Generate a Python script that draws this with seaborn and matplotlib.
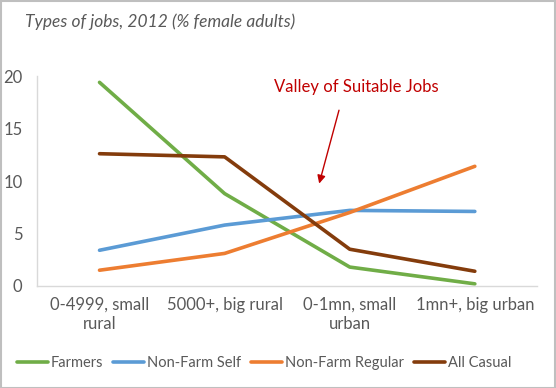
import matplotlib
matplotlib.use("Agg")
import matplotlib.pyplot as plt
import seaborn as sns
import pandas as pd
from matplotlib.patches import Rectangle

categories = ["0-4999, small\nrural", "5000+, big rural", "0-1mn, small\nurban", "1mn+, big urban"]
farmers = [19.4, 8.8, 1.8, 0.2]
nonfarm_self = [3.4, 5.8, 7.2, 7.1]
nonfarm_regular = [1.5, 3.1, 7.0, 11.4]
all_casual = [12.6, 12.3, 3.5, 1.4]
series_names = ["Farmers", "Non-Farm Self", "Non-Farm Regular", "All Casual"]
colors = ["#70AD47", "#5B9BD5", "#ED7D31", "#843C0C"]

sns.set_style("white")
plt.rcParams['font.family'] = ['Lato', 'DejaVu Sans']

rows = []
for name, vals in zip(series_names, [farmers, nonfarm_self, nonfarm_regular, all_casual]):
    for i, v in enumerate(vals):
        rows.append({"pos": i, "value": v, "series": name})
df = pd.DataFrame(rows)

fig = plt.figure(figsize=(5.56, 3.88), dpi=100)
ax = fig.add_axes([0.0665, 0.263, 0.9, 0.541])
sns.lineplot(data=df, x="pos", y="value", hue="series", hue_order=series_names,
             palette=colors, linewidth=2.6, ax=ax, legend=True)

ax.set_xlim(-0.5, 3.5)
ax.set_ylim(0, 20)
ax.set_xticks(range(4))
ax.set_xticklabels(categories, fontsize=12, color="#595959")
ax.set_yticks([0, 5, 10, 15, 20])
ax.set_yticklabels(["0", "5", "10", "15", "20"], fontsize=12, color="#595959")
ax.tick_params(axis='x', length=0, pad=8)
ax.tick_params(axis='y', length=0, pad=10.5)
ax.set_xlabel("")
ax.set_ylabel("")
for s in ["top", "right"]:
    ax.spines[s].set_visible(False)
for s in ["left", "bottom"]:
    ax.spines[s].set_color("#D9D9D9")
    ax.spines[s].set_linewidth(1)

leg = ax.legend(loc="center", bbox_to_anchor=(0.475, 0.064), bbox_transform=fig.transFigure,
                ncol=4, frameon=False, fontsize=10.5, handlelength=2.1, handletextpad=0.2,
                columnspacing=0.7)
for t in leg.get_texts():
    t.set_color("#595959")

fig.text(0.045, 0.945, "Types of jobs, 2012 (% female adults)", fontsize=12.5,
         style="italic", color="#595959", ha="left", va="center")

ax.annotate("", xy=(1.75, 9.5), xytext=(1.92, 17.0),
            arrowprops=dict(arrowstyle="-|>", color="#C00000", lw=1, mutation_scale=12))
ax.text(2.05, 18.95, "Valley of Suitable Jobs", color="#C00000", fontsize=12,
        ha="center", va="center")

fig.patches.append(Rectangle((0.001, 0.001), 0.997, 0.997, transform=fig.transFigure,
                             fill=False, edgecolor="#BFBFBF", linewidth=1.5))

fig.savefig("out.png", dpi=100)
